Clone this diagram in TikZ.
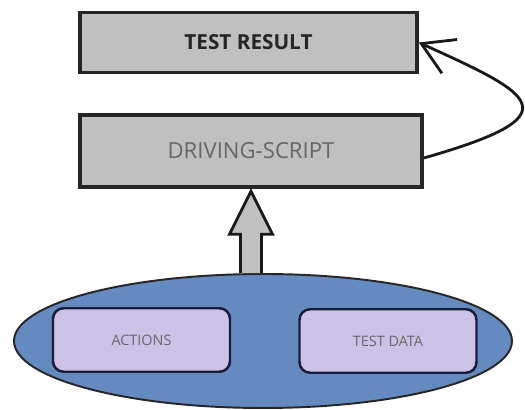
\documentclass[tikz,border=0pt]{standalone}
\usepackage{fontspec}
\setmainfont{Open Sans}
\usepackage{tikz}
\usetikzlibrary{shapes.geometric, arrows.meta, positioning, calc}

\definecolor{boxgray}{RGB}{192,192,192}
\definecolor{poolblue}{RGB}{100,138,192}
\definecolor{itemlav}{RGB}{204,194,232}
\definecolor{itemedge}{RGB}{22,28,58}

\begin{document}
\begin{tikzpicture}[
    stagebox/.style={rectangle, draw=black!85, fill=boxgray, line width=2pt, align=center},
    pool/.style={ellipse, draw=black!85, fill=poolblue, line width=1.1pt, minimum width=9.96cm, minimum height=2.68cm},
    item/.style={rectangle, draw=itemedge, fill=itemlav, line width=1.4pt, rounded corners=6pt, minimum width=3.54cm, minimum height=1.27cm, font=\fontsize{8.2}{9}\selectfont, text=black!60},
    feedback/.style={line width=1.6pt, draw=black!90, -{Straight Barb[length=0.62cm, width=0.74cm, line width=1.6pt]}},
    blockarrow/.style={draw=black!90, fill=boxgray, line width=1.6pt, line join=miter}
]
\useasboundingbox (0,0) rectangle (10.5,-8.2);

% Output and script boxes
\node[stagebox, minimum width=6.74cm, minimum height=1.2cm, font=\fontsize{11.8}{13}\selectfont\bfseries, text=black!85] (result) at (4.97,-0.85) {TEST RESULT};
\node[stagebox, minimum width=6.84cm, minimum height=1.44cm, font=\fontsize{12.6}{14}\selectfont, text=black!60] (drive) at (5.02,-3.02) {DRIVING-SCRIPT};

% Input pool with its two parts
\node[pool] (src) at (5.26,-6.82) {};
\node[item] (actions)  at (2.83,-6.80) {ACTIONS};
\node[item] (testdata) at (7.76,-6.82) {TEST DATA};

% Block arrow from the pool up into the driving script
\coordinate (tip)  at ([yshift=-0.05cm]drive.south);
\coordinate (foot) at (drive.south |- src.north);
\draw[blockarrow] let \p1=(tip), \p2=(foot) in
    (\x2-0.21cm,\y2) -- (\x2-0.21cm,\y1-0.86cm) -- (\x2-0.43cm,\y1-0.86cm) -- (\p1)
    -- (\x2+0.43cm,\y1-0.86cm) -- (\x2+0.21cm,\y1-0.86cm) -- (\x2+0.21cm,\y2);

% Result feedback curve
\draw[feedback] ([yshift=-0.14cm]drive.east) .. controls (11.5,-2.3) and (10.7,-1.9) .. (result.east);

\end{tikzpicture}
\end{document}
